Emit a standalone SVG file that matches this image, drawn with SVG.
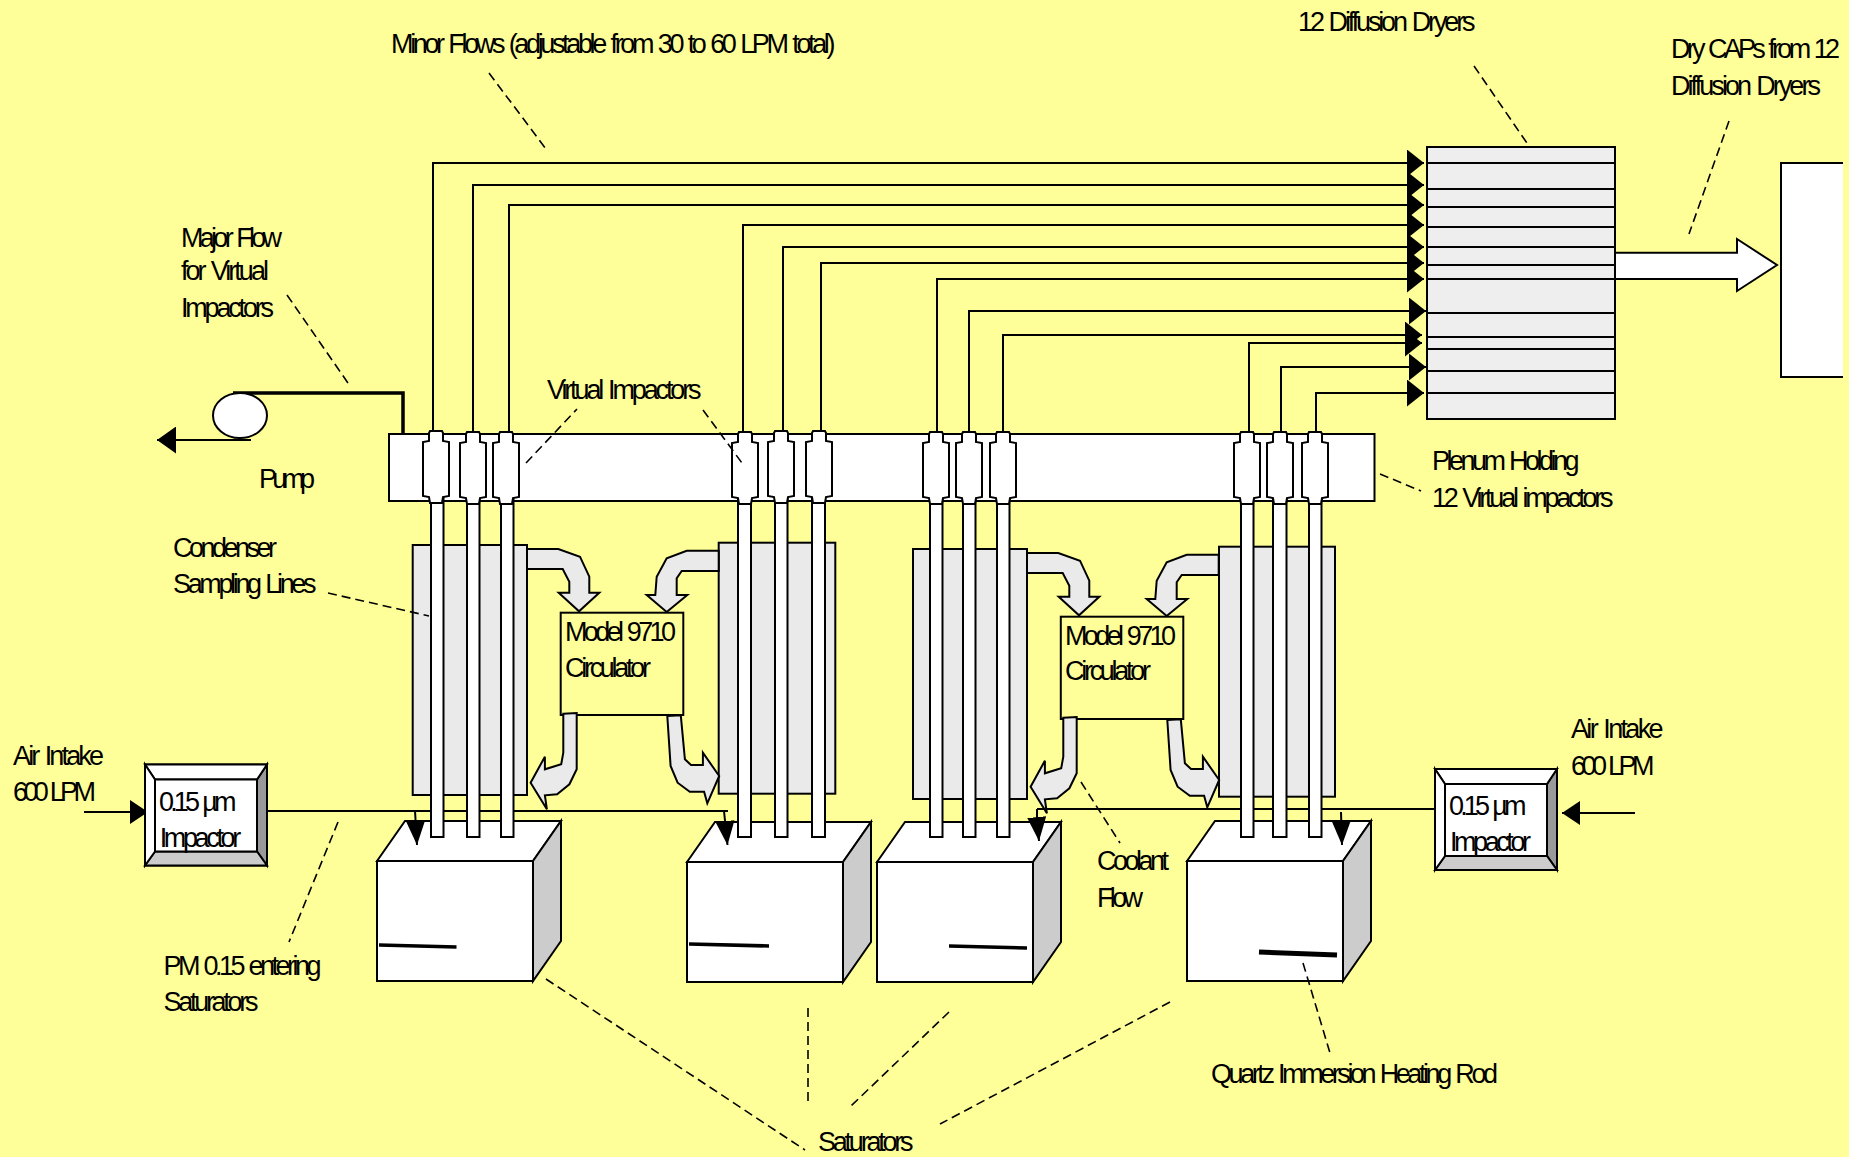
<svg xmlns="http://www.w3.org/2000/svg" width="1849" height="1157" viewBox="0 0 1849 1157">
<style>
.t{font-family:"Liberation Sans",Arial,sans-serif;font-size:27px;fill:#000;word-spacing:2.5px}
.o{stroke:#000;stroke-width:2}
.w{fill:#fff}
.g{fill:#eaeaea}
.y{fill:#ffff99}
.c{fill:none;stroke:#000;stroke-width:2}
.a{marker-end:url(#ah)}
.p{marker-end:url(#ap)}
.i{marker-end:url(#ai)}
.v{marker-end:url(#av)}
.l{fill:none;stroke:#000;stroke-width:1.6;stroke-dasharray:9 5}
.h{fill:none;stroke:#000;stroke-width:3.5}
</style>
<defs>
<marker id="ah" markerUnits="userSpaceOnUse" markerWidth="17" markerHeight="27" refX="17" refY="13.500" orient="auto"><path d="M0,0L17,13.500L0,27Z" fill="#000"/></marker>
<marker id="ap" markerUnits="userSpaceOnUse" markerWidth="19" markerHeight="27" refX="19" refY="13.500" orient="auto"><path d="M0,0L19,13.500L0,27Z" fill="#000"/></marker>
<marker id="ai" markerUnits="userSpaceOnUse" markerWidth="18" markerHeight="24" refX="18" refY="12" orient="auto"><path d="M0,0L18,12L0,24Z" fill="#000"/></marker>
<marker id="av" markerUnits="userSpaceOnUse" markerWidth="24" markerHeight="19" refX="24" refY="9.500" orient="auto"><path d="M0,0L24,9.500L0,19Z" fill="#000"/></marker>
<g id="sat">
<rect class="o w" x="377" y="861" width="156" height="120"/>
<polygon class="o w" points="377,861 405,821 561,821 533,861"/>
<polygon class="o" fill="#ccc" points="533,861 561,821 561,941 533,981"/>
</g>
<g id="bevel">
<rect class="o w" width="122" height="101"/>
<polygon class="o" fill="#999" points="122,0 112,15 112,87 122,101"/>
<polygon class="o" fill="#ccc" points="0,101 10,87 112,87 122,101"/>
<polygon class="o w" points="0,0 10,15 112,15 122,0"/>
<polygon class="o w" points="0,0 10,15 10,87 0,101"/>
<rect class="o w" x="10" y="15" width="102" height="72"/>
</g>
<polygon id="vi" class="o w" points="-6,0 6,0 7,2 7,10 13,11 13,65 7,66 6,72 -6,72 -7,66 -13,65 -13,11 -7,10 -7,2"/>
<g id="flows">
<polygon class="o g" points="527,549 558.3,549 580,556.7 589.3,576.7 589.3,592.7 599.3,592.7 579,611.3 558.7,592.7 569.3,592.7 569.3,581.7 562.7,569 527,569"/>
<polygon class="o g" points="718.7,550.7 686.7,550.7 666.7,558.3 656.7,576.7 655.3,595 646.7,595 666.7,612 687.3,595 676.7,595 676.7,578.3 681.7,571 718.7,571"/>
<polygon class="o g" points="563.3,713.7 576.7,713 576.7,769.3 569.4,784.3 557.1,794.3 544.9,795.3 546.9,809.3 530.6,782.7 544.9,756.7 544.9,769.3 561.2,764.3 563.3,752.7"/>
<polygon class="o g" points="667.3,716 680.8,715.3 684.9,759.3 691,765 702.9,765 702.9,752.7 719.2,776 707.3,803.3 704.1,791.7 689.8,791.7 677.6,782.7 670.6,766"/>
</g>
</defs>
<rect width="1849" height="1157" fill="#ffff99"/>

<g id="saturator-1"><use href="#sat"/><path class="h" d="M379,945L456.500,947"/></g>
<g id="saturator-2"><use href="#sat" x="310" y="1"/><path class="h" d="M689,944L769,946"/></g>
<g id="saturator-3"><use href="#sat" x="500" y="1"/><path class="h" d="M949,946L1027,948"/></g>
<g id="saturator-4"><use href="#sat" x="810"/><path class="h" style="stroke-width:5" d="M1259,952L1337,955"/></g>

<g id="connectors">
<path class="c a" d="M433,434V163H1424"/>
<path class="c a" d="M473,434V185H1424"/>
<path class="c a" d="M509,434V205H1424"/>
<path class="c a" d="M743,434V225H1424"/>
<path class="c a" d="M783,434V247H1424"/>
<path class="c a" d="M821,434V263H1424"/>
<path class="c a" d="M937,434V279H1424"/>
<path class="c a" d="M969,434V311H1426"/>
<path class="c a" d="M1003,434V335H1422"/>
<path class="c a" d="M1249,434V343H1422"/>
<path class="c a" d="M1281,434V367H1426"/>
<path class="c a" d="M1316,434V393H1424"/>
<path class="c" style="stroke-width:3.5" d="M233,393H403V434"/>
<path class="c p" d="M251,440H157"/>
<path class="c i" d="M84,812H148"/>
<path class="c i" d="M1635,813H1562"/>
<path class="c" d="M267,811H728"/>
<path class="c" d="M1037,809H1435"/>
<path class="c v" d="M415,811L417,845"/>
<path class="c v" d="M724,811L727.500,845"/>
<path class="c v" d="M1037,809V820L1039,841"/>
<path class="c v" d="M1341,812L1342,845"/>
<polygon class="o w" points="1615,252.700 1737,252.700 1737,239 1777,265 1737,291 1737,279 1615,279"/>
</g>

<g id="condenser-1"><rect class="o g" x="412.700" y="545" width="114.300" height="250"/></g>
<g id="condenser-2"><rect class="o g" x="718.700" y="542.700" width="116.600" height="251"/></g>
<g id="condenser-3"><rect class="o g" x="913" y="549" width="114" height="250"/></g>
<g id="condenser-4"><rect class="o g" x="1219" y="546.700" width="116" height="250"/></g>

<g id="circulator-1"><rect class="o y" x="560.700" y="612.700" width="122.600" height="102.300"/>
<text class="t" x="565" y="641" textLength="111">Model 9710</text>
<text class="t" x="565" y="677" textLength="86">Circulator</text></g>
<g id="circulator-2"><rect class="o y" x="1060.800" y="616.700" width="122.500" height="102.300"/>
<text class="t" x="1065" y="645" textLength="111">Model 9710</text>
<text class="t" x="1065" y="680" textLength="86">Circulator</text></g>
<g id="coolant-flow-1"><use href="#flows"/></g>
<g id="coolant-flow-2"><use href="#flows" x="500" y="4"/></g>

<g id="plenum"><rect class="o w" x="389" y="434" width="985.500" height="67"/></g>

<g id="tubes" class="o w">
<rect x="431" y="495" width="12.500" height="342"/>
<rect x="467" y="495" width="12.500" height="342"/>
<rect x="501" y="495" width="12.500" height="342"/>
<rect x="738" y="495" width="13" height="342"/>
<rect x="775" y="495" width="12.500" height="342"/>
<rect x="812" y="495" width="13" height="342"/>
<rect x="930" y="495" width="12.500" height="342"/>
<rect x="963" y="495" width="12.500" height="342"/>
<rect x="997" y="495" width="12.500" height="342"/>
<rect x="1241" y="495" width="12.500" height="342"/>
<rect x="1273" y="495" width="13.500" height="342"/>
<rect x="1309" y="495" width="12.500" height="342"/>
</g>
<g id="virtual-impactor-1"><use href="#vi" x="436" y="431"/></g>
<g id="virtual-impactor-2"><use href="#vi" x="473" y="432"/></g>
<g id="virtual-impactor-3"><use href="#vi" x="506" y="432"/></g>
<g id="virtual-impactor-4"><use href="#vi" x="745" y="432"/></g>
<g id="virtual-impactor-5"><use href="#vi" x="781" y="431"/></g>
<g id="virtual-impactor-6"><use href="#vi" x="819" y="431"/></g>
<g id="virtual-impactor-7"><use href="#vi" x="936" y="432"/></g>
<g id="virtual-impactor-8"><use href="#vi" x="969" y="432"/></g>
<g id="virtual-impactor-9"><use href="#vi" x="1003" y="432"/></g>
<g id="virtual-impactor-10"><use href="#vi" x="1247" y="432"/></g>
<g id="virtual-impactor-11"><use href="#vi" x="1280" y="432"/></g>
<g id="virtual-impactor-12"><use href="#vi" x="1315" y="432"/></g>

<g id="impactor-left"><use href="#bevel" x="145" y="764.500"/>
<text class="t" x="159" y="811" textLength="77.500">0.15 µm</text>
<text class="t" x="159.700" y="847" textLength="81.500">Impactor</text></g>
<g id="impactor-right"><use href="#bevel" x="1435" y="769"/>
<text class="t" x="1449" y="815" textLength="77.500">0.15 µm</text>
<text class="t" x="1450" y="851" textLength="81">Impactor</text></g>

<g id="pump"><ellipse class="o w" cx="240" cy="415.500" rx="27" ry="22.500"/></g>

<g id="dryers">
<rect class="o" fill="#eee" x="1427" y="147" width="188" height="272"/>
<path class="c" d="M1427,163H1615M1427,189H1615M1427,207H1615M1427,227H1615M1427,247H1615M1427,265H1615M1427,279H1615M1427,313H1615M1427,337H1615M1427,349H1615M1427,371H1615M1427,393H1615"/>
</g>
<g id="dry-caps"><rect class="w" x="1781" y="163" width="62" height="214"/><path class="c" d="M1843,163H1781V377H1843"/></g>

<g id="leaders">
<path class="l" d="M489,73L546,149"/>
<path class="l" d="M1474,66L1529,146"/>
<path class="l" d="M1729,121L1689,234"/>
<path class="l" d="M287,295L348,383"/>
<path class="l" d="M526,463L577,409"/>
<path class="l" d="M703,410L742,463"/>
<path class="l" d="M1380,474L1421,491"/>
<path class="l" d="M328,593L429,616"/>
<path class="l" d="M338,822L289,942"/>
<path class="l" d="M1081,782L1120,843"/>
<path class="l" d="M1303,963L1330,1053"/>
<path class="l" d="M546,979L805,1150"/>
<path class="l" d="M808,1008V1103"/>
<path class="l" d="M949,1012L851,1106"/>
<path class="l" d="M1170,1002L940,1124"/>
</g>

<g id="labels">
<text class="t" x="391" y="53" textLength="444.500">Minor Flows (adjustable from 30 to 60 LPM total)</text>
<text class="t" x="1298" y="31" textLength="177.500">12 Diffusion Dryers</text>
<text class="t" x="1671" y="58" textLength="169">Dry CAPs from 12</text>
<text class="t" x="1671" y="95" textLength="150">Diffusion Dryers</text>
<text class="t" x="181" y="247" textLength="101">Major Flow</text>
<text class="t" x="181" y="280" textLength="88">for Virtual</text>
<text class="t" x="181" y="317" textLength="93">Impactors</text>
<text class="t" x="259" y="488" textLength="56">Pump</text>
<text class="t" x="547" y="399" textLength="154.500">Virtual Impactors</text>
<text class="t" x="1432" y="470" textLength="147.500">Plenum Holding</text>
<text class="t" x="1432" y="507" textLength="181.500">12 Virtual impactors</text>
<text class="t" x="173" y="557" textLength="104">Condenser</text>
<text class="t" x="173" y="593" textLength="143.500">Sampling Lines</text>
<text class="t" x="13" y="765" textLength="91">Air Intake</text>
<text class="t" x="13" y="801" textLength="83">600 LPM</text>
<text class="t" x="1571" y="738" textLength="92.500">Air Intake</text>
<text class="t" x="1571" y="775" textLength="83.500">600 LPM</text>
<text class="t" x="1097" y="870" textLength="72">Coolant</text>
<text class="t" x="1097" y="907" textLength="46">Flow</text>
<text class="t" x="163.500" y="975" textLength="158">PM 0.15 entering</text>
<text class="t" x="163.500" y="1011" textLength="95">Saturators</text>
<text class="t" x="1211" y="1083" textLength="287">Quartz Immersion Heating Rod</text>
<text class="t" x="818" y="1151" textLength="95.500">Saturators</text>
</g>
</svg>
